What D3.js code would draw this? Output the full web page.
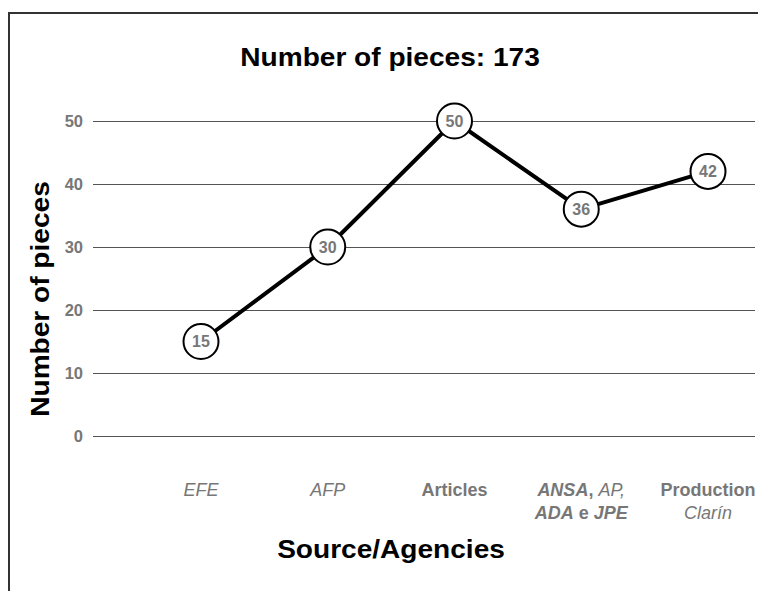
<!DOCTYPE html>
<html>
<head>
<meta charset="UTF-8">
<title>Number of pieces</title>
<script src="https://d3js.org/d3.v7.min.js"></script>
<style>
  body { margin: 0; background: #fff; }
  svg { display: block; font-family: "Liberation Sans", Arial, sans-serif; }
</style>
</head>
<body>
<svg width="758" height="591"></svg>
<script>
const categories = ["EFE", "AFP", "Articles", "ANSA", "Production"];
const pieces = [15, 30, 50, 36, 42];
const yTicks = [0, 10, 20, 30, 40, 50];
// tick labels, each line is a list of [text, bold, italic]
const catLabels = [
  [[["EFE", false, true]]],
  [[["AFP", false, true]]],
  [[["Articles", true, false]]],
  [[["ANSA", true, true], [", ", true, false], ["AP,", false, true]],
   [["ADA", true, true], [" e ", true, false], ["JPE", true, true]]],
  [[["Production", true, false]], [["Clarín", false, true]]]
];

const svg = d3.select("svg");

// frame
svg.append("path")
  .attr("d", "M9,591V13H758")
  .attr("fill", "none")
  .attr("stroke", "#333")
  .attr("stroke-width", 2);

const x = d3.scalePoint().domain(categories).range([201, 708]);
const y = d3.scaleLinear().domain([0, 50]).range([436, 121]);

// grid + y labels
const yAxis = svg.append("g")
  .attr("transform", "translate(93,0)")
  .call(d3.axisLeft(y).tickValues(yTicks).tickSize(-662).tickPadding(10).tickFormat(d3.format("d")));
yAxis.select(".domain").remove();
yAxis.selectAll(".tick line").attr("stroke", "#555").attr("stroke-width", 1);
yAxis.selectAll(".tick text")
  .attr("fill", "#777").attr("font-size", 16.5).attr("font-weight", "bold")
  .attr("font-family", "Liberation Sans, Arial, sans-serif");

// x labels
const xl = svg.append("g").selectAll("text")
  .data(catLabels)
  .join("text")
  .attr("x", (d, i) => x(categories[i]))
  .attr("y", 496)
  .attr("text-anchor", "middle")
  .attr("fill", "#777")
  .attr("font-size", 18);
xl.each(function(lines, i) {
  const t = d3.select(this);
  lines.forEach((parts, li) => {
    parts.forEach((p, pi) => {
      const ts = t.append("tspan")
        .text(p[0])
        .attr("font-weight", p[1] ? "bold" : "normal")
        .attr("font-style", p[2] ? "italic" : "normal")
        .style("white-space", "pre");
      if (pi === 0 && li > 0) ts.attr("x", x(categories[i])).attr("dy", 23);
    });
  });
});

// line
svg.append("path")
  .datum(pieces)
  .attr("d", d3.line().x((d, i) => x(categories[i])).y(d => y(d)))
  .attr("fill", "none")
  .attr("stroke", "#000")
  .attr("stroke-width", 4)
  .attr("stroke-linejoin", "round");

const pts = svg.append("g").selectAll("g")
  .data(pieces)
  .join("g")
  .attr("transform", (d, i) => `translate(${x(categories[i])},${y(d)})`);
pts.append("circle")
  .attr("r", 17.5)
  .attr("fill", "#fff")
  .attr("stroke", "#000")
  .attr("stroke-width", 2);
pts.append("text")
  .attr("text-anchor", "middle")
  .attr("dy", "0.36em")
  .attr("fill", "#777")
  .attr("font-weight", "bold")
  .attr("font-size", 16)
  .text(d => d);

// titles
svg.append("text")
  .attr("transform", "translate(390,66) scale(1.08,1)")
  .attr("text-anchor", "middle")
  .attr("font-size", 26).attr("font-weight", "bold")
  .text("Number of pieces: 173");

svg.append("text")
  .attr("transform", "translate(49,299) rotate(-90) scale(1.08,1)")
  .attr("text-anchor", "middle")
  .attr("font-size", 26).attr("font-weight", "bold")
  .text("Number of pieces");

svg.append("text")
  .attr("transform", "translate(391,558) scale(1.08,1)")
  .attr("text-anchor", "middle")
  .attr("font-size", 26).attr("font-weight", "bold")
  .text("Source/Agencies");
</script>
</body>
</html>
